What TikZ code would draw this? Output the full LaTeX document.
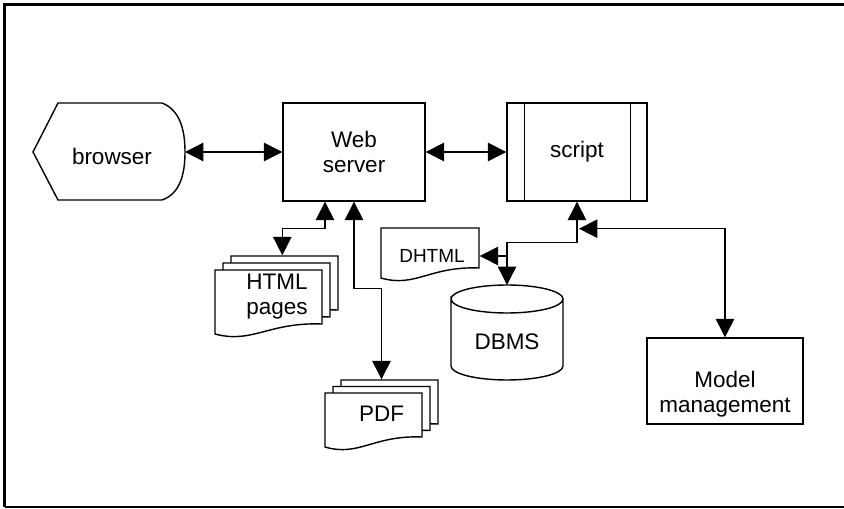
\documentclass[tikz,border=0pt]{standalone}
\usepackage{fontspec}
\setmainfont{Liberation Sans}
\usepackage{tikz}
\usetikzlibrary{arrows.meta,calc}

% document sheet with a wavy lower edge: lower left x, y, width, height
\newcommand{\wavedoc}[4]{%
    \filldraw[fill=white] (#1,#2) -- (#1,{#2+#4}) -- ({#1+#3},{#2+#4}) -- ({#1+#3},{#2+0.25})
        .. controls ({#1+0.5*#3},{#2+0.3}) and ({#1+0.35*#3},{#2-0.25}) .. (#1,#2) -- cycle;}

\begin{document}
\begin{tikzpicture}[line width=1pt, font=\fontsize{16}{18}\selectfont,
    box/.style={draw, minimum width=3.5cm, minimum height=2.45cm, align=center},
    link/.style={{Triangle[length=4.6mm,width=4.6mm]}-{Triangle[length=4.6mm,width=4.6mm]}},
    tip/.style={-{Triangle[length=4.6mm,width=4.6mm]}}]
    \fill[white] (0,0) rectangle (21.1,12.7);
    \useasboundingbox (0,0) rectangle (21.1,12.7);
    % frame
    \draw[line width=2.3pt] (0.1125,0.03) -- (0.1125,12.5825) -- (21.1,12.5825);
    \draw (0.1125,0.03) -- (21.1,0.03);

    % browser
    \draw (0.825,8.9) -- (1.45,10.125) -- (4.05,10.125) .. controls (4.5,9.95) and (4.625,9.45) .. (4.625,8.9)
        .. controls (4.625,8.35) and (4.5,7.85) .. (4.05,7.7) -- (1.45,7.7) -- cycle;
    \node (browser) at (2.8,8.8) {browser};
    \coordinate (browserR) at (4.625,8.9);

    % web server and script
    \node[box, minimum width=3.55cm] (web) at (8.85,8.9) {Web\\server};
    \node[box] (script) at (14.425,8.9) {script};
    \draw ([xshift=4.5mm]script.north west) -- ([xshift=4.5mm]script.south west);
    \draw ([xshift=-4.25mm]script.north east) -- ([xshift=-4.25mm]script.south east);
    \draw[link] (browserR) -- (web.west);
    \draw[link] (web.east) -- (script.west);

    % HTML pages
    \wavedoc{5.775}{4.7}{2.675}{1.6}
    \wavedoc{5.575}{4.525}{2.675}{1.6}
    \wavedoc{5.375}{4.35}{2.675}{1.6}
    \node[minimum width=3.1cm, minimum height=2.025cm, align=center] (html) at (6.925,5.2875) {HTML\\pages};
    \draw[link] ([xshift=-7.25mm]web.south) -- ++(0,-0.675) -| (html.north -| web.west);

    % PDF
    \wavedoc{8.525}{1.85}{2.425}{1.35}
    \wavedoc{8.325}{1.6875}{2.425}{1.35}
    \wavedoc{8.125}{1.525}{2.425}{1.35}
    \node[minimum width=2.825cm, minimum height=1.675cm] (pdf) at (9.5375,2.3625) {PDF};
    \draw[link] (web.south) -- ++(0,-2.175) -| (pdf.north);

    % DHTML
    \wavedoc{9.525}{5.75}{2.45}{1.25}
    \node[minimum width=2.35cm, font=\fontsize{13.5}{16}\selectfont] (dhtml) at (10.8,6.3) {DHTML};

    % DBMS
    \draw (11.275,5.225) arc[start angle=180, end angle=-180, x radius=1.4, y radius=0.35]
        -- (11.275,3.55) arc[start angle=180, end angle=360, x radius=1.4, y radius=0.35] -- (14.075,5.225);
    \node (dbms) at (12.675,4.15) {DBMS};
    \coordinate (dbmstop) at (12.675,5.575);
    \draw[link] (script.south) -- ++(0,-1.025) -| (dbmstop);
    \draw[tip] (dhtml.east -| dbmstop) -- (dhtml.east);

    % model management
    \node[box, minimum width=3.9cm, minimum height=2.15cm] (model) at (18.125,3.175) {};
    \node[align=center] (modeltext) at ([yshift=-3.3mm]model.center) {Model\\management};
    \coordinate (mmjoin) at ($(script.south)+(0.05,-0.675)$);
    \draw[link] (mmjoin) -| (model.north);
\end{tikzpicture}
\end{document}
